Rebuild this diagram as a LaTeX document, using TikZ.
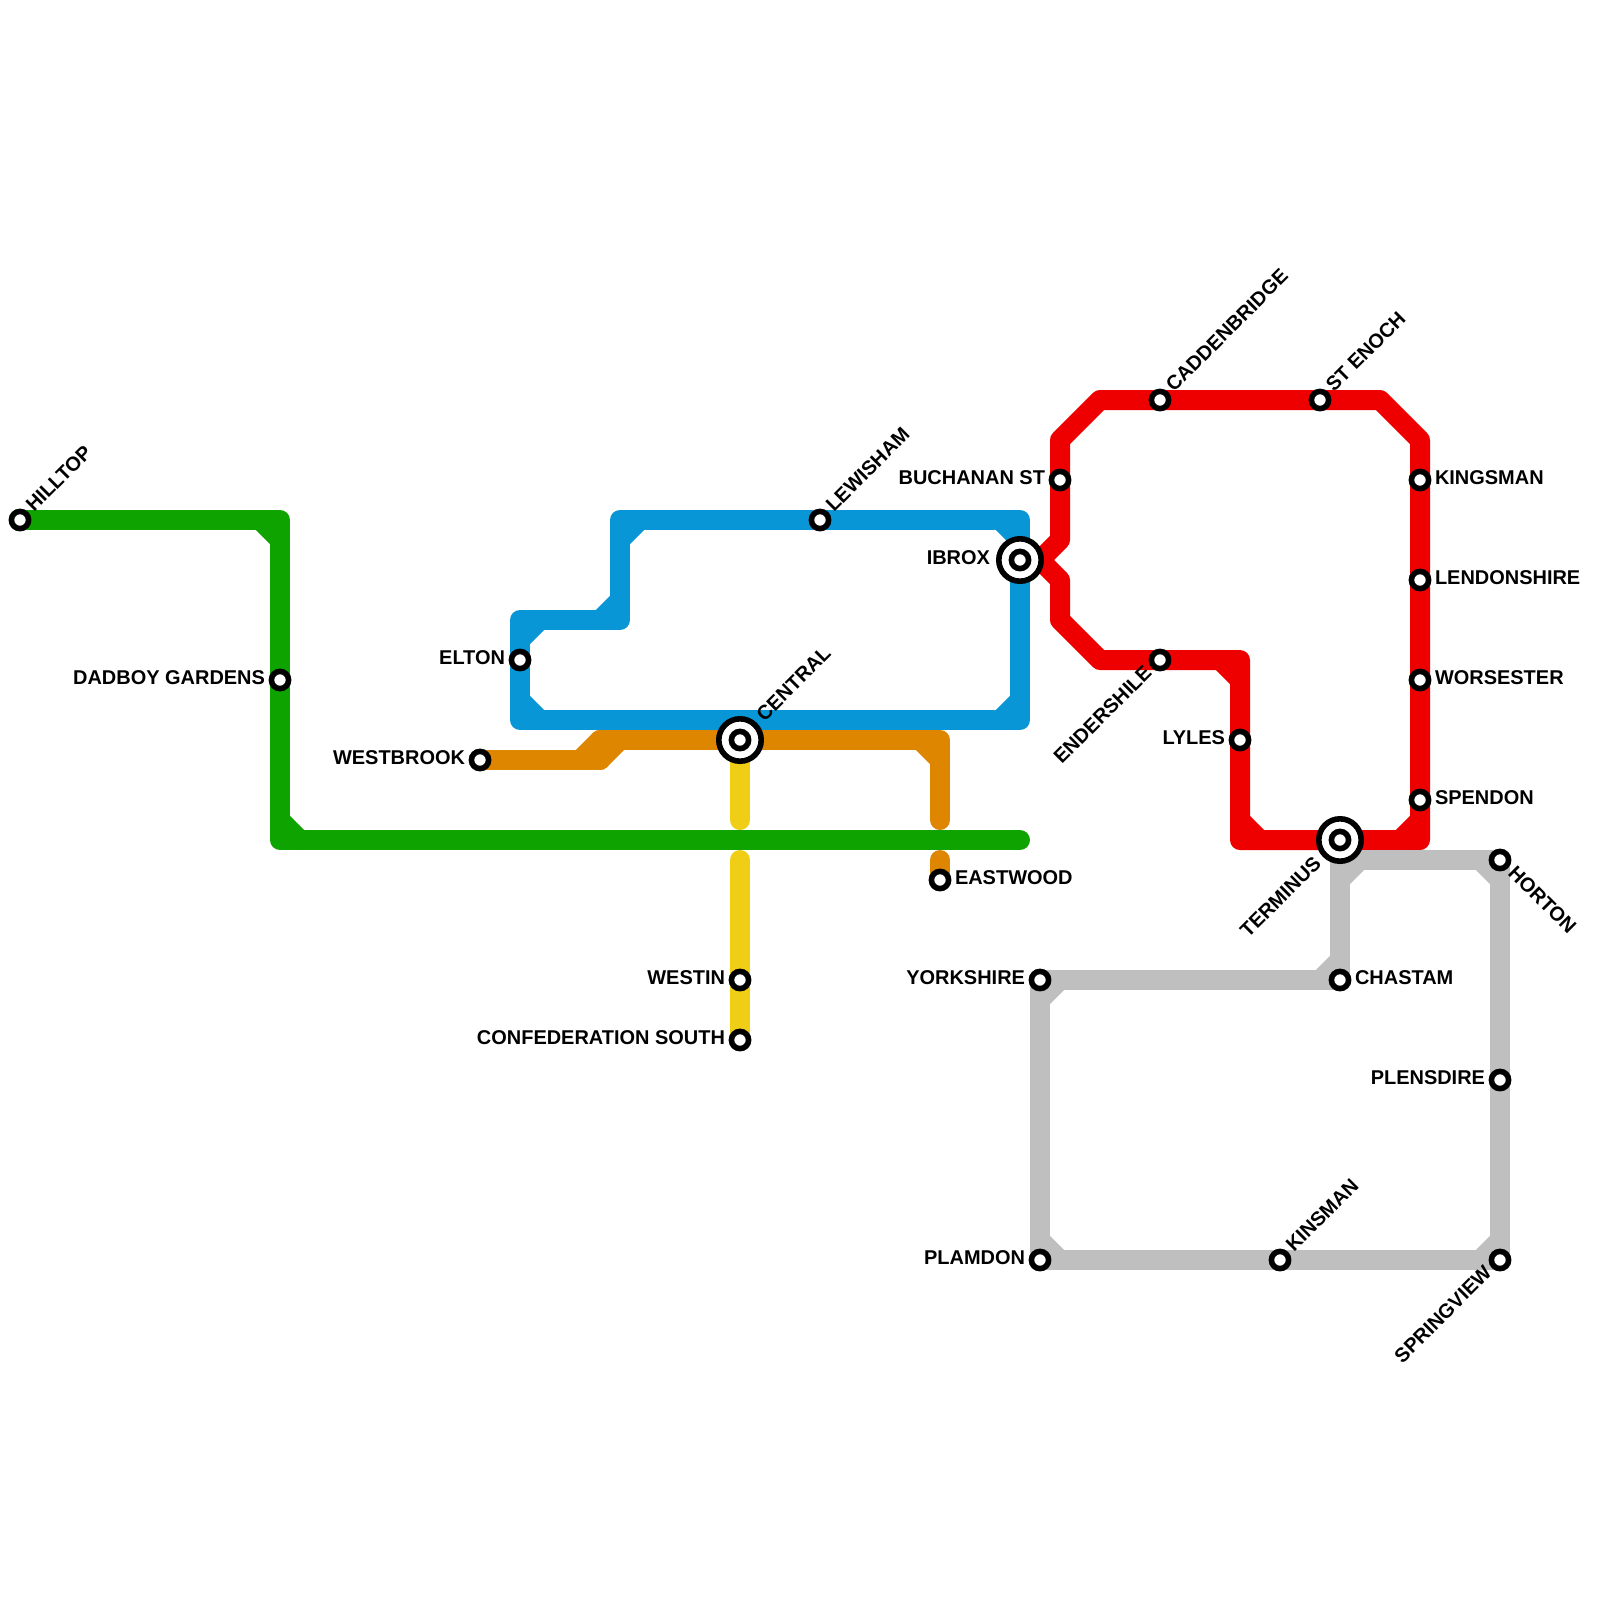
\documentclass[tikz,border=0pt]{standalone}
\usepackage{fontspec}
\setmainfont{Liberation Sans}
\usetikzlibrary{backgrounds}
\definecolor{lineblue}{HTML}{0896D7}
\definecolor{linered}{HTML}{EE0000}
\definecolor{linegreen}{HTML}{0FA300}
\definecolor{lineorange}{HTML}{DF8600}
\definecolor{lineyellow}{HTML}{F0CE15}
\definecolor{linegrey}{HTML}{BFBFBF}
\tikzset{
  tline/.style={line width=5mm,line join=round,line cap=round},
  stn/.style={circle,draw=black,fill=white,line width=1.4mm,minimum size=4.3mm,inner sep=0pt,outer sep=0pt},
  bigstn/.style={circle,draw=black,fill=white,line width=1.4mm,minimum size=10.6mm,inner sep=0pt,outer sep=0pt},
  lbl/.style={inner sep=0pt,outer sep=0pt,font=\bfseries\fontsize{14.2}{14.2}\selectfont},
  lblright/.style={lbl,anchor=base west,xshift=3.75mm,yshift=-1.2mm},
  lblleft/.style={lbl,anchor=base east,xshift=-3.75mm,yshift=-1.2mm},
  lblup/.style={rotate=45,lblright},
  lbldown/.style={rotate=45,lblleft},
  lblslope/.style={rotate=-45,lblright}
}
\begin{document}
\begin{tikzpicture}[x=0.5cm,y=-0.5cm]
\useasboundingbox (0,0) rectangle (80,80);
% stations
\node[stn] (hilltop) at (1,26) {};
\node[stn] (dadboy) at (14,34) {};
\node[stn] (elton) at (26,33) {};
\node[stn] (westbrook) at (24,38) {};
\node[bigstn] (central) at (37,37) {};
\node[stn] (centraldot) at (37,37) {};
\node[stn] (lewisham) at (41,26) {};
\node[bigstn] (ibrox) at (51,28) {};
\node[stn] (ibroxdot) at (51,28) {};
\node[stn] (eastwood) at (47,44) {};
\node[stn] (westin) at (37,49) {};
\node[stn] (confed) at (37,52) {};
\node[stn] (buchanan) at (53,24) {};
\node[stn] (caddenbridge) at (58,20) {};
\node[stn] (stenoch) at (66,20) {};
\node[stn] (kingsman) at (71,24) {};
\node[stn] (lendonshire) at (71,29) {};
\node[stn] (worsester) at (71,34) {};
\node[stn] (spendon) at (71,40) {};
\node[stn] (endershile) at (58,33) {};
\node[stn] (lyles) at (62,37) {};
\node[bigstn] (terminus) at (67,42) {};
\node[stn] (terminusdot) at (67,42) {};
\node[stn] (horton) at (75,43) {};
\node[stn] (chastam) at (67,49) {};
\node[stn] (yorkshire) at (52,49) {};
\node[stn] (plensdire) at (75,54) {};
\node[stn] (plamdon) at (52,63) {};
\node[stn] (kinsman) at (64,63) {};
\node[stn] (springview) at (75,63) {};
% labels
\node[lblup] (lhilltop) at (hilltop) {HILLTOP};
\node[lblleft] (ldadboy) at (dadboy) {DADBOY GARDENS};
\node[lblleft] (lelton) at (elton) {ELTON};
\node[lblleft] (lwestbrook) at (westbrook) {WESTBROOK};
\node[lblup,xshift=3.75mm] (lcentral) at (central) {CENTRAL};
\node[lblup] (llewisham) at (lewisham) {LEWISHAM};
\node[lblleft,xshift=-3.75mm] (librox) at (ibrox) {IBROX};
\node[lblright] (leastwood) at (eastwood) {EASTWOOD};
\node[lblleft] (lwestin) at (westin) {WESTIN};
\node[lblleft] (lconfed) at (confed) {CONFEDERATION SOUTH};
\node[lblleft] (lbuchanan) at (buchanan) {BUCHANAN ST};
\node[lblup] (lcaddenbridge) at (caddenbridge) {CADDENBRIDGE};
\node[lblup] (lstenoch) at (stenoch) {ST ENOCH};
\node[lblright] (lkingsman) at (kingsman) {KINGSMAN};
\node[lblright] (llendonshire) at (lendonshire) {LENDONSHIRE};
\node[lblright] (lworsester) at (worsester) {WORSESTER};
\node[lblright] (lspendon) at (spendon) {SPENDON};
\node[lbldown] (lendershile) at (endershile) {ENDERSHILE};
\node[lblleft] (llyles) at (lyles) {LYLES};
\node[lbldown,xshift=-3.75mm] (lterminus) at (terminus) {TERMINUS};
\node[lblslope] (lhorton) at (horton) {HORTON};
\node[lblright] (lchastam) at (chastam) {CHASTAM};
\node[lblleft] (lyorkshire) at (yorkshire) {YORKSHIRE};
\node[lblleft] (lplensdire) at (plensdire) {PLENSDIRE};
\node[lblleft] (lplamdon) at (plamdon) {PLAMDON};
\node[lblup] (lkinsman) at (kinsman) {KINSMAN};
\node[lbldown] (lspringview) at (springview) {SPRINGVIEW};
% corners and free ends
\coordinate (greenA) at (14,26);
\coordinate (greenB) at (14,42);
\coordinate (greenC) at (51,42);
\coordinate (blueA) at (31,26);
\coordinate (blueB) at (51,26);
\coordinate (blueC) at (51,36);
\coordinate (blueD) at (26,36);
\coordinate (blueE) at (26,31);
\coordinate (blueF) at (31,31);
\coordinate (orangeA) at (30,38);
\coordinate (orangeB) at (30,37);
\coordinate (orangeC) at (47,37);
\coordinate (orangeD) at (47,41);
\coordinate (orangeE) at (47,43);
\coordinate (yellowA) at (37,41);
\coordinate (yellowB) at (37,43);
\coordinate (redA) at (52,28);
\coordinate (redB) at (53,27);
\coordinate (redC) at (53,22);
\coordinate (redD) at (55,20);
\coordinate (redE) at (69,20);
\coordinate (redF) at (71,22);
\coordinate (redG) at (71,42);
\coordinate (redH) at (62,42);
\coordinate (redI) at (62,33);
\coordinate (redJ) at (55,33);
\coordinate (redK) at (53,31);
\coordinate (redL) at (53,29);
\coordinate (greyA) at (67,43);
\begin{scope}[on background layer]
\draw[tline,lineblue] (blueA) -- (blueB) -- (blueC) -- (blueD) -- (blueE) -- (blueF) -- cycle;
\draw[tline,lineblue] (blueA) ++(1,0) -- ++(-1,1);
\draw[tline,lineblue] (blueB) ++(-1,0) -- ++(1,1);
\draw[tline,lineblue] (blueC) ++(-1,0) -- ++(1,-1);
\draw[tline,lineblue] (blueD) ++(1,0) -- ++(-1,-1);
\draw[tline,lineblue] (blueE) ++(1,0) -- ++(-1,1);
\draw[tline,lineblue] (blueF) ++(-1,0) -- ++(1,-1);
\draw[tline,lineorange] (westbrook.center) -- (orangeA) -- (orangeB) -- (orangeC) -- (orangeD);
\draw[tline,lineorange] (orangeE) -- (eastwood.center);
\draw[tline,lineorange] (orangeA) ++(-1,0) -- ++(1,-1);
\draw[tline,lineorange] (orangeB) ++(1,0) -- ++(-1,1);
\draw[tline,lineorange] (orangeC) ++(-1,0) -- ++(1,1);
\draw[tline,lineyellow] (central.center) -- (yellowA);
\draw[tline,lineyellow] (yellowB) -- (confed.center);
\draw[tline,linegreen] (hilltop.center) -- (greenA) -- (greenB) -- (greenC);
\draw[tline,linegreen] (greenA) ++(-1,0) -- ++(1,1);
\draw[tline,linegreen] (greenB) ++(1,0) -- ++(-1,-1);
\draw[tline,linered] (ibrox.center) -- (redA) -- (redB) -- (redC) -- (redD) -- (redE) -- (redF) -- (redG) -- (redH) -- (redI) -- (redJ) -- (redK) -- (redL) -- (redA);
\draw[tline,linered] (redG) ++(-1,0) -- ++(1,-1);
\draw[tline,linered] (redH) ++(1,0) -- ++(-1,-1);
\draw[tline,linered] (redI) ++(-1,0) -- ++(1,1);
\draw[tline,linegrey] (terminus.center) -- (chastam.center) -- (yorkshire.center) -- (plamdon.center) -- (springview.center) -- (horton.center) -- (greyA);
\draw[tline,linegrey] (greyA) ++(1,0) -- ++(-1,1);
\draw[tline,linegrey] (chastam.center) ++(-1,0) -- ++(1,-1);
\draw[tline,linegrey] (yorkshire.center) ++(1,0) -- ++(-1,1);
\draw[tline,linegrey] (plamdon.center) ++(1,0) -- ++(-1,-1);
\draw[tline,linegrey] (springview.center) ++(-1,0) -- ++(1,-1);
\draw[tline,linegrey] (horton.center) ++(-1,0) -- ++(1,1);
\end{scope}
\end{tikzpicture}
\end{document}
